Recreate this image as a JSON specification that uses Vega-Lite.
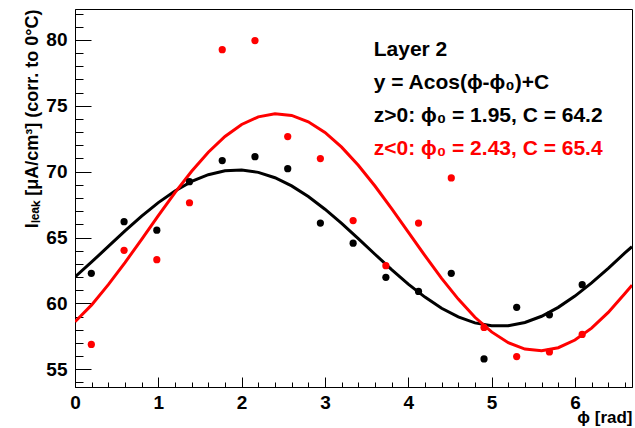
{
  "$schema": "https://vega.github.io/schema/vega-lite/v6.json",
  "width": 557,
  "height": 378,
  "autosize": {"type": "none"},
  "padding": {"left": 75, "top": 9, "right": 3, "bottom": 41},
  "background": "white",
  "config": {
    "view": {"stroke": "black", "strokeWidth": 1},
    "font": "Liberation Sans",
    "axis": {
      "labelFont": "Liberation Sans",
      "labelFontWeight": "bold",
      "labelFontSize": 19,
      "labelColor": "black",
      "labelFlush": false,
      "labelOverlap": false,
      "titleFont": "Liberation Sans",
      "titleFontWeight": "bold",
      "titleColor": "black",
      "tickColor": "black",
      "domainColor": "black",
      "grid": false
    }
  },
  "datasets": {
    "pts": [
      {"phi": 0.196, "I": 62.28, "side": "z>0"},
      {"phi": 0.589, "I": 66.2, "side": "z>0"},
      {"phi": 0.982, "I": 65.56, "side": "z>0"},
      {"phi": 1.374, "I": 69.24, "side": "z>0"},
      {"phi": 1.767, "I": 70.84, "side": "z>0"},
      {"phi": 2.16, "I": 71.14, "side": "z>0"},
      {"phi": 2.553, "I": 70.23, "side": "z>0"},
      {"phi": 2.945, "I": 66.1, "side": "z>0"},
      {"phi": 3.338, "I": 64.57, "side": "z>0"},
      {"phi": 3.731, "I": 61.98, "side": "z>0"},
      {"phi": 4.123, "I": 60.91, "side": "z>0"},
      {"phi": 4.516, "I": 62.28, "side": "z>0"},
      {"phi": 4.909, "I": 55.78, "side": "z>0"},
      {"phi": 5.301, "I": 59.7, "side": "z>0"},
      {"phi": 5.694, "I": 59.13, "side": "z>0"},
      {"phi": 6.087, "I": 61.42, "side": "z>0"},
      {"phi": 0.196, "I": 56.88, "side": "z<0"},
      {"phi": 0.589, "I": 64.03, "side": "z<0"},
      {"phi": 0.982, "I": 63.32, "side": "z<0"},
      {"phi": 1.374, "I": 67.64, "side": "z<0"},
      {"phi": 1.767, "I": 79.26, "side": "z<0"},
      {"phi": 2.16, "I": 79.95, "side": "z<0"},
      {"phi": 2.553, "I": 72.66, "side": "z<0"},
      {"phi": 2.945, "I": 70.99, "side": "z<0"},
      {"phi": 3.338, "I": 66.29, "side": "z<0"},
      {"phi": 3.731, "I": 62.86, "side": "z<0"},
      {"phi": 4.123, "I": 66.1, "side": "z<0"},
      {"phi": 4.516, "I": 69.52, "side": "z<0"},
      {"phi": 4.909, "I": 58.17, "side": "z<0"},
      {"phi": 5.301, "I": 55.96, "side": "z<0"},
      {"phi": 5.694, "I": 56.31, "side": "z<0"},
      {"phi": 6.087, "I": 57.64, "side": "z<0"}
    ],
    "fits": [
      {"phi": 0.0, "I": 62.005, "side": "z>0"},
      {"phi": 0.2, "I": 63.143, "side": "z>0"},
      {"phi": 0.4, "I": 64.323, "side": "z>0"},
      {"phi": 0.6, "I": 65.499, "side": "z>0"},
      {"phi": 0.8, "I": 66.622, "side": "z>0"},
      {"phi": 1.0, "I": 67.649, "side": "z>0"},
      {"phi": 1.2, "I": 68.539, "side": "z>0"},
      {"phi": 1.4, "I": 69.255, "side": "z>0"},
      {"phi": 1.6, "I": 69.771, "side": "z>0"},
      {"phi": 1.8, "I": 70.064, "side": "z>0"},
      {"phi": 2.0, "I": 70.123, "side": "z>0"},
      {"phi": 2.2, "I": 69.946, "side": "z>0"},
      {"phi": 2.4, "I": 69.539, "side": "z>0"},
      {"phi": 2.6, "I": 68.921, "side": "z>0"},
      {"phi": 2.8, "I": 68.114, "side": "z>0"},
      {"phi": 3.0, "I": 67.151, "side": "z>0"},
      {"phi": 3.2, "I": 66.07, "side": "z>0"},
      {"phi": 3.4, "I": 64.915, "side": "z>0"},
      {"phi": 3.6, "I": 63.73, "side": "z>0"},
      {"phi": 3.8, "I": 62.566, "side": "z>0"},
      {"phi": 4.0, "I": 61.466, "side": "z>0"},
      {"phi": 4.2, "I": 60.475, "side": "z>0"},
      {"phi": 4.4, "I": 59.628, "side": "z>0"},
      {"phi": 4.6, "I": 58.972, "side": "z>0"},
      {"phi": 4.8, "I": 58.52, "side": "z>0"},
      {"phi": 5.0, "I": 58.293, "side": "z>0"},
      {"phi": 5.2, "I": 58.306, "side": "z>0"},
      {"phi": 5.4, "I": 58.546, "side": "z>0"},
      {"phi": 5.6, "I": 59.02, "side": "z>0"},
      {"phi": 5.8, "I": 59.697, "side": "z>0"},
      {"phi": 6.0, "I": 60.553, "side": "z>0"},
      {"phi": 6.2, "I": 61.555, "side": "z>0"},
      {"phi": 6.4, "I": 62.664, "side": "z>0"},
      {"phi": 6.6, "I": 63.83, "side": "z>0"},
      {"phi": 6.685, "I": 64.3, "side": "z>0"},
      {"phi": 0.0, "I": 58.6, "side": "z<0"},
      {"phi": 0.2, "I": 59.884, "side": "z<0"},
      {"phi": 0.4, "I": 61.418, "side": "z<0"},
      {"phi": 0.6, "I": 63.093, "side": "z<0"},
      {"phi": 0.8, "I": 64.867, "side": "z<0"},
      {"phi": 1.0, "I": 66.663, "side": "z<0"},
      {"phi": 1.2, "I": 68.408, "side": "z<0"},
      {"phi": 1.4, "I": 70.033, "side": "z<0"},
      {"phi": 1.6, "I": 71.474, "side": "z<0"},
      {"phi": 1.8, "I": 72.672, "side": "z<0"},
      {"phi": 2.0, "I": 73.581, "side": "z<0"},
      {"phi": 2.2, "I": 74.163, "side": "z<0"},
      {"phi": 2.4, "I": 74.396, "side": "z<0"},
      {"phi": 2.6, "I": 74.27, "side": "z<0"},
      {"phi": 2.8, "I": 73.791, "side": "z<0"},
      {"phi": 3.0, "I": 72.977, "side": "z<0"},
      {"phi": 3.2, "I": 71.861, "side": "z<0"},
      {"phi": 3.4, "I": 70.488, "side": "z<0"},
      {"phi": 3.6, "I": 68.912, "side": "z<0"},
      {"phi": 3.8, "I": 67.195, "side": "z<0"},
      {"phi": 4.0, "I": 65.407, "side": "z<0"},
      {"phi": 4.2, "I": 63.62, "side": "z<0"},
      {"phi": 4.4, "I": 61.902, "side": "z<0"},
      {"phi": 4.6, "I": 60.324, "side": "z<0"},
      {"phi": 4.8, "I": 58.943, "side": "z<0"},
      {"phi": 5.0, "I": 57.832, "side": "z<0"},
      {"phi": 5.2, "I": 57.015, "side": "z<0"},
      {"phi": 5.4, "I": 56.532, "side": "z<0"},
      {"phi": 5.6, "I": 56.404, "side": "z<0"},
      {"phi": 5.8, "I": 56.634, "side": "z<0"},
      {"phi": 6.0, "I": 57.214, "side": "z<0"},
      {"phi": 6.2, "I": 58.119, "side": "z<0"},
      {"phi": 6.4, "I": 59.316, "side": "z<0"},
      {"phi": 6.6, "I": 60.753, "side": "z<0"},
      {"phi": 6.685, "I": 61.385, "side": "z<0"}
    ],
    "notes": [
      {"text": "Layer 2", "phi": 3.585, "I": 78.8, "side": "head"},
      {"text": "y = Acos(ϕ-ϕ₀)+C", "phi": 3.585, "I": 76.27, "side": "head"},
      {"text": "z>0: ϕ₀ = 1.95, C = 64.2", "phi": 3.585, "I": 73.76, "side": "z>0"},
      {"text": "z<0: ϕ₀ = 2.43, C = 65.4", "phi": 3.585, "I": 71.27, "side": "z<0"}
    ]
  },
  "resolve": {"axis": {"x": "independent", "y": "independent"}},
  "layer": [
    {
      "data": {"name": "fits"},
      "mark": {"type": "line", "strokeWidth": 3, "clip": true},
      "encoding": {
        "x": {
          "field": "phi", "type": "quantitative",
          "scale": {"domain": [0, 6.685], "nice": false, "zero": false},
          "axis": {
            "orient": "bottom",
            "values": [0.2, 0.4, 0.6, 0.8, 1.2, 1.4, 1.6, 1.8, 2.2, 2.4, 2.6, 2.8, 3.2, 3.4, 3.6, 3.8, 4.2, 4.4, 4.6, 4.8, 5.2, 5.4, 5.6, 5.8, 6.2, 6.4, 6.6],
            "labels": false, "domain": false, "tickSize": -5, "title": null
          }
        },
        "y": {
          "field": "I", "type": "quantitative",
          "scale": {"domain": [53.65, 82.35], "nice": false, "zero": false},
          "axis": {
            "orient": "left",
            "values": [54, 56, 57, 58, 59, 61, 62, 63, 64, 66, 67, 68, 69, 71, 72, 73, 74, 76, 77, 78, 79, 81, 82],
            "labels": false, "domain": false, "tickSize": -8, "title": null
          }
        },
        "color": {
          "field": "side", "type": "nominal",
          "scale": {"domain": ["z>0", "z<0", "head"], "range": ["black", "#ff0000", "black"]},
          "legend": null
        }
      }
    },
    {
      "data": {"name": "pts"},
      "mark": {"type": "circle", "size": 52, "opacity": 1},
      "encoding": {
        "x": {
          "field": "phi", "type": "quantitative",
          "axis": {
            "orient": "bottom",
            "values": [0, 1, 2, 3, 4, 5, 6],
            "tickSize": -10, "labelPadding": 16,
            "title": "ϕ [rad]", "titleFontSize": 17, "titleAnchor": "end", "titlePadding": -3
          }
        },
        "y": {
          "field": "I", "type": "quantitative",
          "axis": {
            "orient": "left",
            "values": [55, 60, 65, 70, 75, 80],
            "tickSize": -16, "labelPadding": 24,
            "title": "Iₗₑₐₖ [μA/cm³] (corr. to 0°C)", "titleFontSize": 18, "titleAnchor": "end", "titlePadding": 4
          }
        },
        "color": {"field": "side", "type": "nominal", "legend": null}
      }
    },
    {
      "data": {"name": "notes"},
      "mark": {"type": "text", "align": "left", "baseline": "alphabetic", "fontSize": 21, "fontWeight": "bold", "font": "Liberation Sans"},
      "encoding": {
        "x": {"field": "phi", "type": "quantitative", "axis": null},
        "y": {"field": "I", "type": "quantitative", "axis": null},
        "text": {"field": "text"},
        "color": {"field": "side", "type": "nominal", "legend": null}
      }
    }
  ]
}
